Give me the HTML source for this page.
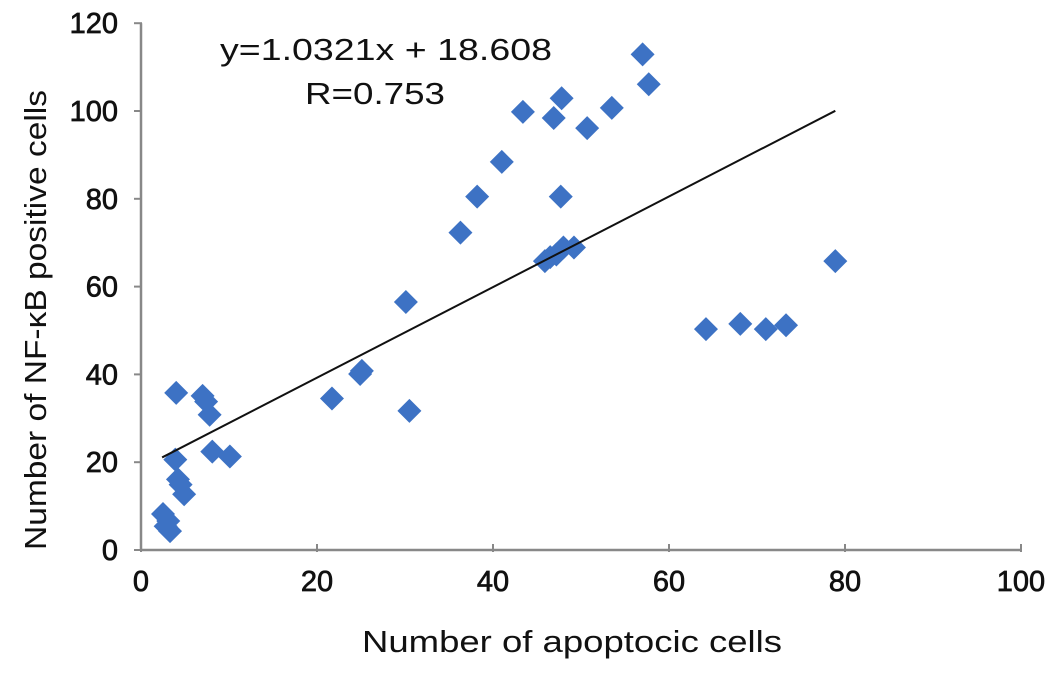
<!DOCTYPE html>
<html><head><meta charset="utf-8"><style>
body{margin:0;background:#fff;}
svg{display:block;font-family:"Liberation Sans",Arial,sans-serif;}
</style></head><body>
<svg id="chart" width="1063" height="675">
<g id="axes"></g>
<g id="pts"></g>
<text x="220" y="60" font-size="31" textLength="332" lengthAdjust="spacingAndGlyphs" fill="#111">y=1.0321x + 18.608</text>
<text x="305" y="104" font-size="31" textLength="140" lengthAdjust="spacingAndGlyphs" fill="#111">R=0.753</text>
<text x="362" y="652" font-size="31" textLength="420" lengthAdjust="spacingAndGlyphs" fill="#111">Number of apoptocic cells</text>
<text transform="translate(46,550) rotate(-90)" font-size="31" textLength="460" lengthAdjust="spacingAndGlyphs" fill="#111">Number of NF-κB positive cells</text>
</svg>
<script>
const xVals=[2.5,2.8,3.3,3.1,3.9,4.0,4.2,4.5,4.9,7.0,7.4,7.8,8.1,10.1,21.7,24.9,25.1,30.1,30.5,36.3,38.2,41.0,43.4,46.9,47.8,47.7,50.7,53.5,57.0,57.7,45.9,46.5,47.2,48.0,49.2,64.2,68.1,71.0,73.3,78.9];
const yVals=[8.2,5.4,4.3,6.6,20.6,35.8,16.1,14.9,12.7,35.1,33.8,30.8,22.4,21.3,34.5,40.1,40.8,56.5,31.7,72.3,80.5,88.4,99.8,98.4,102.9,80.5,96.1,100.7,112.9,106.1,65.8,66.7,67.3,68.9,68.9,50.3,51.5,50.3,51.2,65.8];
const xTicks=[0,20,40,60,80,100];
const yTicks=[0,20,40,60,80,100,120];
const slope=1.0321, intercept=18.608;
const NS="http://www.w3.org/2000/svg";
const sx=v=>141+v*8.8;
const sy=v=>550-v*4.39;
function mk(t,a,p){const e=document.createElementNS(NS,t);for(const k in a)e.setAttribute(k,a[k]);p.appendChild(e);return e;}
const ax=document.getElementById('axes');
let l=mk('line',{x1:141,y1:sy(0),x2:sx(100),y2:sy(0),stroke:'#888','stroke-width':2.5},ax);


l=mk('line',{x1:141,y1:sy(0),x2:141,y2:sy(120),stroke:'#888','stroke-width':2.5},ax);


xTicks.forEach(v=>{
 mk('line',{x1:sx(v),y1:sy(0)-6,x2:sx(v),y2:sy(0)+2,stroke:'#888','stroke-width':2},ax);
 const t=mk('text',{x:sx(v),y:591,'font-size':29,stroke:'#111','stroke-width':0.7,'text-anchor':'middle',fill:'#111'},ax);
 t.textContent=v;
 
 
});
yTicks.forEach(v=>{
 mk('line',{x1:134,y1:sy(v),x2:142,y2:sy(v),stroke:'#888','stroke-width':2},ax);
 const t=mk('text',{x:118,y:sy(v)+10,'font-size':29,stroke:'#111','stroke-width':0.7,'text-anchor':'end',fill:'#111'},ax);
 t.textContent=v;
 
 
});
const pg=document.getElementById('pts');
xVals.forEach((x,i)=>{
 const cx=sx(x),cy=sy(yVals[i]),r=12;
 const p=mk('polygon',{points:`${cx},${cy-r} ${cx+r},${cy} ${cx},${cy+r} ${cx-r},${cy}`,fill:'#3d72c4'},pg);
 
 
});
const x0=2.4,x1=78.9;
const tl=mk('line',{x1:sx(x0),y1:sy(slope*x0+intercept),x2:sx(x1),y2:sy(slope*x1+intercept),stroke:'#111','stroke-width':2},document.getElementById('chart'));


</script>
</body></html>
